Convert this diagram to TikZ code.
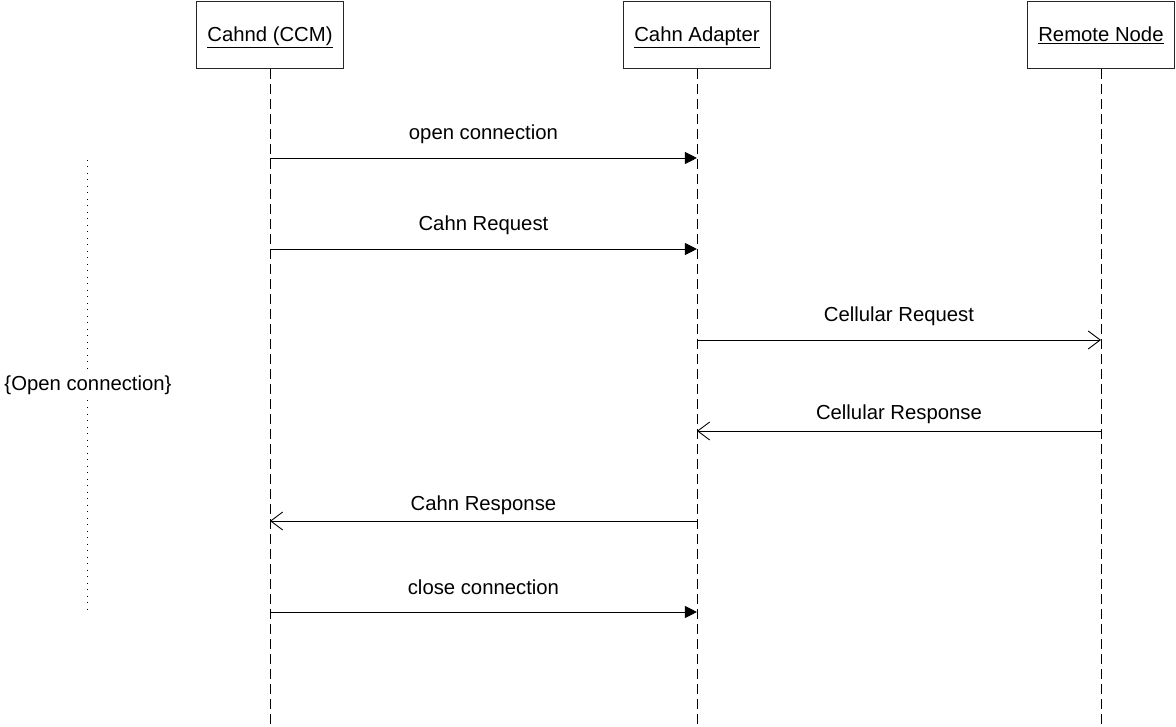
\documentclass[tikz,border=0pt]{standalone}
\usepackage{fontspec}
\setmainfont{Liberation Sans}
\usetikzlibrary{arrows.meta}
\begin{document}
\begin{tikzpicture}[x=1pt,y=-1pt,
  font=\fontsize{20.3}{24}\selectfont,
  actor/.style={draw=black!85,line width=0.9pt,minimum width=147pt,minimum height=67pt,inner sep=0pt,text height=17pt,text depth=3pt,anchor=north west},
  lifeline/.style={draw=black,line width=0.9pt,dash pattern=on 10pt off 5pt},
  syncmsg/.style={draw=black,line width=0.9pt,-{Triangle[length=12pt,width=12pt]}},
  retmsg/.style={draw=black,line width=0.9pt,-{Straight Barb[length=12pt,width=18pt,line width=0.9pt]}},
  msglabel/.style={anchor=base,inner sep=0pt,yshift=18pt},
  retlabel/.style={anchor=base,inner sep=0pt,yshift=11pt}]
\useasboundingbox (0,0) rectangle (1176,727);
\node[actor] (a) at (196,1) {\underline{Cahnd (CCM)}};
\node[actor] (b) at (623,1) {\underline{Cahn Adapter}};
\node[actor] (c) at (1027,1) {\underline{Remote Node}};
\coordinate (aend) at (a.south |- 0,727);
\coordinate (bend) at (b.south |- 0,727);
\coordinate (cend) at (c.south |- 0,727);
\draw[lifeline] (a.south) -- (aend);
\draw[lifeline] (b.south) -- (bend);
\draw[lifeline] (c.south) -- (cend);
% message anchor points
\coordinate (a1) at (a.south |- 0,158); \coordinate (b1) at (b.south |- 0,158);
\coordinate (a2) at (a.south |- 0,249); \coordinate (b2) at (b.south |- 0,249);
\coordinate (b3) at (b.south |- 0,340); \coordinate (c3) at (c.south |- 0,340);
\coordinate (b4) at (b.south |- 0,431); \coordinate (c4) at (c.south |- 0,431);
\coordinate (a5) at (a.south |- 0,521); \coordinate (b5) at (b.south |- 0,521);
\coordinate (a6) at (a.south |- 0,612); \coordinate (b6) at (b.south |- 0,612);
\draw[syncmsg] (a1) -- node[msglabel] {open connection} (b1);
\draw[syncmsg] (a2) -- node[msglabel] {Cahn Request} (b2);
\draw[retmsg] (b3) -- node[msglabel] {Cellular Request} (c3);
\draw[retmsg] (c4) -- node[retlabel] {Cellular Response} (b4);
\draw[retmsg] (b5) -- node[retlabel] {Cahn Response} (a5);
\draw[syncmsg] (a6) -- node[msglabel] {close connection} (b6);
% fragment
\coordinate (ftop) at (87,160);
\coordinate (fbot) at (87,612);
\draw[line width=0.8pt,dash pattern=on 1pt off 5.5pt] (ftop) -- (fbot);
\node[fill=white,inner sep=2pt] (flabel) at (88,385) {\{Open connection\}};
\end{tikzpicture}
\end{document}
